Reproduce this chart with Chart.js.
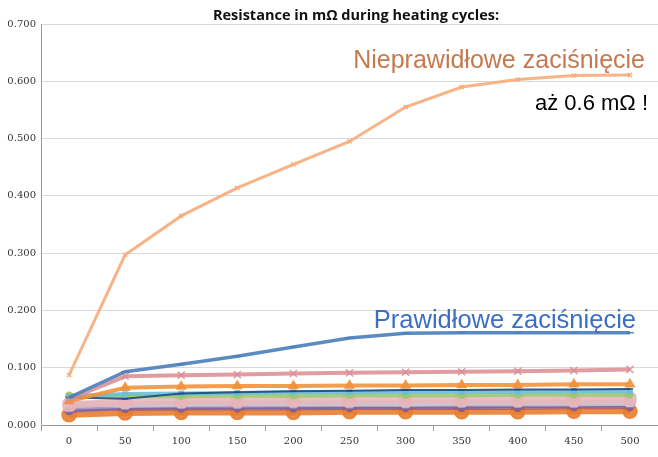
<!DOCTYPE html>
<html>
<head>
<meta charset="utf-8">
<script src="https://cdn.jsdelivr.net/npm/chart.js@4"></script>
<style>
  body { margin: 0; background: #fff; }
  #wrap { width: 658px; height: 457px; }
</style>
</head>
<body>
<div id="wrap"><canvas id="chart" width="658" height="457"></canvas></div>
<script>
// --- dades ---
const cycles = ["0", "50", "100", "150", "200", "250", "300", "350", "400", "450", "500"];
const badCrimp = [0.087, 0.297, 0.365, 0.414, 0.455, 0.495, 0.555, 0.590, 0.603, 0.610, 0.611];
const blueSeries = [0.048, 0.093, 0.106, 0.120, 0.136, 0.152, 0.160, 0.161, 0.161, 0.161, 0.161];
const pinkSeries = [0.045, 0.085, 0.087, 0.088, 0.090, 0.091, 0.092, 0.093, 0.094, 0.095, 0.097];
const orangeTri = [0.042, 0.065, 0.067, 0.068, 0.068, 0.069, 0.069, 0.070, 0.070, 0.071, 0.071];
const navySeries = [0.048, 0.046, 0.055, 0.057, 0.059, 0.060, 0.061, 0.061, 0.062, 0.062, 0.063];
const cyanSeries = [0.050, 0.054, 0.055, 0.056, 0.057, 0.057, 0.058, 0.058, 0.058, 0.059, 0.059];
const greenSeries = [0.052, 0.050, 0.050, 0.051, 0.051, 0.052, 0.052, 0.052, 0.053, 0.053, 0.053];
const lightPink = [0.035, 0.040, 0.042, 0.042, 0.043, 0.043, 0.044, 0.044, 0.044, 0.044, 0.045];
const graySeries = [0.038, 0.036, 0.037, 0.038, 0.038, 0.038, 0.038, 0.039, 0.039, 0.039, 0.039];
const lavender = [0.030, 0.033, 0.034, 0.034, 0.035, 0.035, 0.035, 0.036, 0.036, 0.036, 0.037];
const purpleSeries = [0.025, 0.030, 0.030, 0.031, 0.031, 0.032, 0.032, 0.032, 0.033, 0.033, 0.034];
const maroonSeries = [0.028, 0.027, 0.028, 0.028, 0.028, 0.029, 0.029, 0.029, 0.029, 0.030, 0.030];
const orangeCircle = [0.018, 0.021, 0.022, 0.022, 0.022, 0.023, 0.023, 0.023, 0.023, 0.024, 0.024];
const yTicks = [0, 0.1, 0.2, 0.3, 0.4, 0.5, 0.6, 0.7];

function ds(data, color, width, style, radius) {
  return {
    data: data,
    borderColor: color,
    backgroundColor: color,
    borderWidth: width,
    pointStyle: style,
    pointRadius: radius,
    pointBorderWidth: 1.5,
    tension: 0,
  };
}

// Textos de les anotacions
const notes = {
  id: "notes",
  afterDraw(chart) {
    const c = chart.ctx;
    c.save();
    c.textBaseline = "alphabetic";
    c.textAlign = "center";
    c.fillStyle = "#111";
    c.font = "bold 14.5px 'Open Sans'";
    c.fillText("Resistance in mΩ during heating cycles:", 356, 20);
    c.textAlign = "right";
    c.font = "25px 'Liberation Sans'";
    c.fillStyle = "#C47A4E";
    c.fillText("Nieprawidłowe zaciśnięcie", 645, 68);
    c.fillStyle = "#000";
    c.font = "22px 'Liberation Sans'";
    c.fillText("aż 0.6 mΩ !", 648, 110);
    c.fillStyle = "#3C6EC4";
    c.font = "25.5px 'Liberation Sans'";
    c.fillText("Prawidłowe zaciśnięcie", 636, 328);
    c.restore();
  },
};

new Chart(document.getElementById("chart"), {
  type: "line",
  data: {
    labels: cycles,
    datasets: [
      ds(badCrimp, "rgba(246,172,122,0.9)", 3, "crossRot", 3),
      ds(blueSeries, "rgba(74,126,187,0.9)", 3.5, "line", 4),
      ds(pinkSeries, "rgba(217,140,146,0.85)", 4, "crossRot", 5),
      ds(orangeTri, "rgba(242,146,60,0.9)", 4, "triangle", 5),
      ds(navySeries, "rgba(31,73,125,0.9)", 2, "line", 3),
      ds(cyanSeries, "rgba(110,190,215,0.9)", 4, "rect", 3),
      ds(greenSeries, "rgba(155,200,110,0.9)", 4, "circle", 3),
      ds(lightPink, "rgba(230,180,185,0.85)", 7, "rectRounded", 7),
      ds(graySeries, "rgba(210,205,205,0.8)", 6, "rect", 5),
      ds(lavender, "rgba(180,160,205,0.85)", 4, "rect", 4),
      ds(purpleSeries, "rgba(128,100,162,0.9)", 4, "circle", 4),
      ds(maroonSeries, "rgba(160,80,90,0.7)", 3, "circle", 3),
      ds(orangeCircle, "rgba(232,128,50,0.9)", 6, "circle", 7),
    ],
  },
  options: {
    responsive: false,
    animation: false,
    layout: { autoPadding: false, padding: { top: 24, right: -4, left: 0, bottom: 0 } },
    plugins: { legend: { display: false }, tooltip: { enabled: false } },
    scales: {
      x: {
        offset: true,
        grid: {
          offset: true,
          drawOnChartArea: false,
          drawTicks: true,
          tickLength: 6,
          color: "#999",
        },
        border: { color: "#999" },
        ticks: {
          color: "#333",
          font: { family: "'DejaVu Serif'", size: 10 },
          padding: 4,
          maxRotation: 0,
        },
        afterFit(axis) {
          axis.height = 32;
          axis.paddingRight = 0;
          axis.paddingLeft = 0;
        },
      },
      y: {
        min: 0,
        max: 0.7,
        afterBuildTicks(axis) { axis.ticks = yTicks.map((v) => ({ value: v })); },
        grid: { color: "#d9d9d9", drawTicks: false },
        border: { color: "#999" },
        ticks: {
          color: "#333",
          font: { family: "'DejaVu Serif'", size: 10 },
          padding: 5,
          callback: (v) => v.toFixed(3),
        },
        afterFit(axis) { axis.width = 41; },
      },
    },
  },
  plugins: [notes],
});
</script>
</body>
</html>
